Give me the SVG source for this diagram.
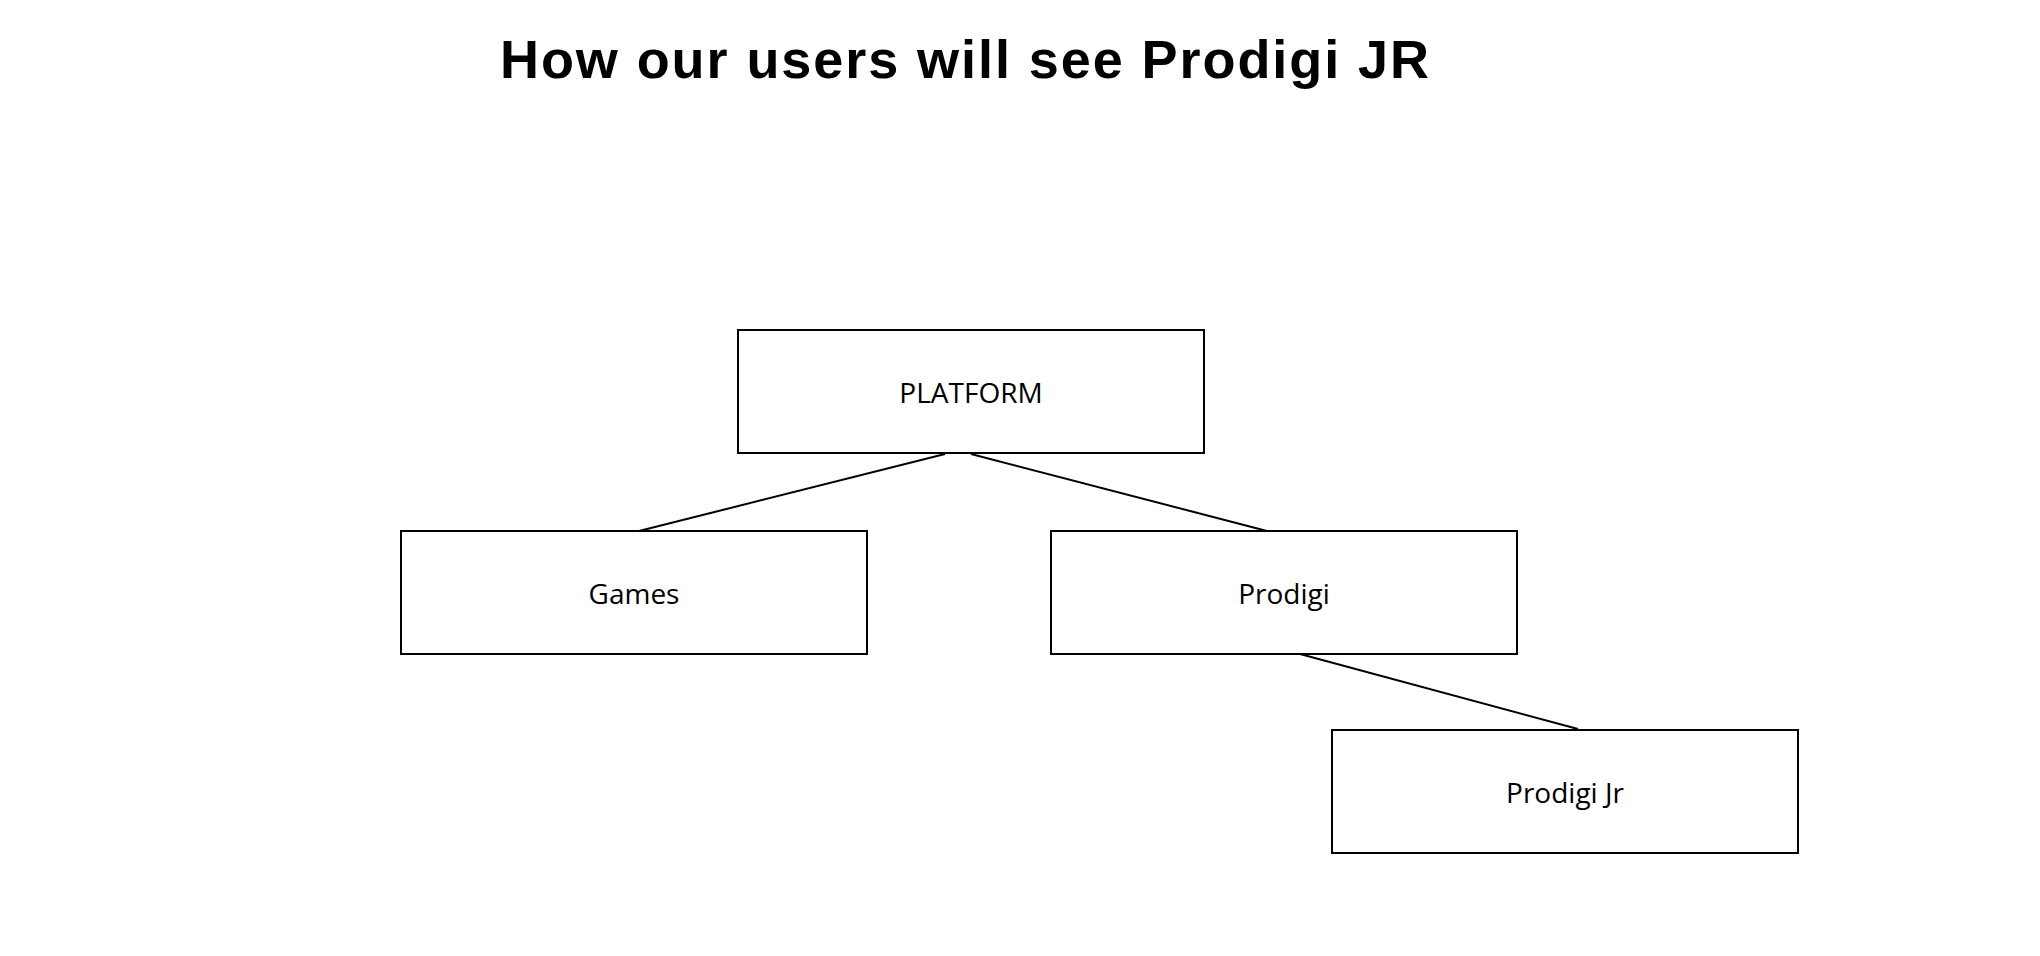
<svg xmlns="http://www.w3.org/2000/svg" width="2040" height="956" viewBox="0 0 2040 956">
<style>
.box{fill:#fff;stroke:#000;stroke-width:2}
.lbl{font-family:"Open Sans","Liberation Sans",sans-serif;font-size:28px;text-anchor:middle;dominant-baseline:central;fill:#000}
.con{stroke:#000;stroke-width:2;fill:none}
</style>
<rect width="2040" height="956" fill="#fff"/>
<text x="500" y="78" font-family="Liberation Sans, Arial, sans-serif" font-weight="bold" font-size="54" textLength="929">How our users will see Prodigi JR</text>
<g id="connectors">
<line class="con" x1="945" y1="454" x2="639" y2="531"/>
<line class="con" x1="971" y1="454" x2="1267" y2="531"/>
<line class="con" x1="1300" y1="654" x2="1578" y2="729"/>
</g>
<g id="platform"><rect class="box" x="738" y="330" width="466" height="123"/><text class="lbl" x="971" y="392">PLATFORM</text></g>
<g id="games"><rect class="box" x="401" y="531" width="466" height="123"/><text class="lbl" x="634" y="593">Games</text></g>
<g id="prodigi"><rect class="box" x="1051" y="531" width="466" height="123"/><text class="lbl" x="1284" y="593">Prodigi</text></g>
<g id="prodigijr"><rect class="box" x="1332" y="730" width="466" height="123"/><text class="lbl" x="1565" y="792">Prodigi Jr</text></g>
</svg>
